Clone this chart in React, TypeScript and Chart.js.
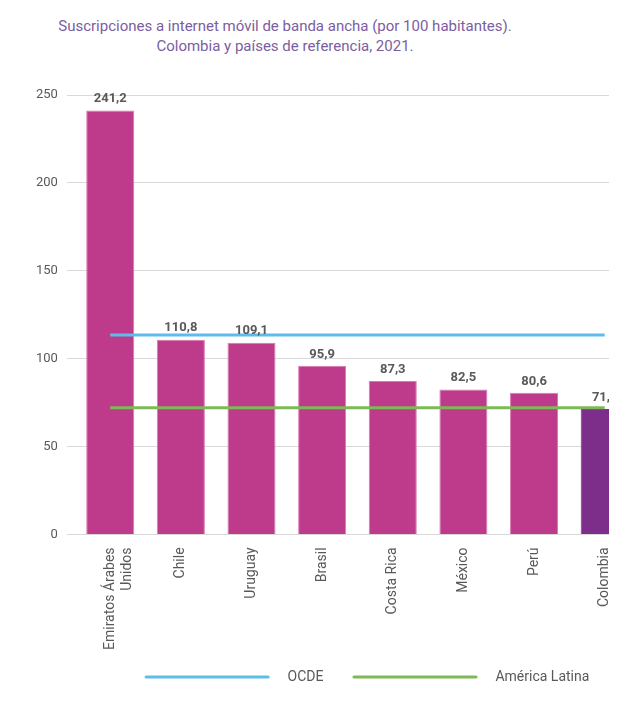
import React, { useEffect, useRef } from "react";
import { Chart, registerables } from "chart.js";

Chart.register(...registerables);

const categories: (string | string[])[] = [
  ["Emiratos Árabes", "Unidos"],
  "Chile",
  "Uruguay",
  "Brasil",
  "Costa Rica",
  "México",
  "Perú",
  "Colombia",
];
const values = [241.2, 110.8, 109.1, 95.9, 87.3, 82.5, 80.6, 71.4];
const ocdeValues = [113.5, 113.5, 113.5, 113.5, 113.5, 113.5, 113.5, 113.5];
const latamValues = [72, 72, 72, 72, 72, 72, 72, 72];
const seriesNames = ["OCDE", "América Latina"];
const yMin = 0;
const yMax = 250;
const yStep = 50;

const MAGENTA = "#be3a8b";
const MAGENTA_EDGE = "#d979b2";
const PURPLE = "#7c2e8a";
const BLUE = "#5cbdea";
const GREEN = "#7cba56";
const TEXT = "#595959";
const FONT = "Roboto";

const fmt = (v: number) => v.toFixed(1).replace(".", ",");

function legendImage(color: string) {
  const c = document.createElement("canvas");
  c.width = 155;
  c.height = 4;
  const ctx = c.getContext("2d")!;
  ctx.strokeStyle = color;
  ctx.lineWidth = 3;
  ctx.lineCap = "round";
  ctx.beginPath();
  ctx.moveTo(20.5, 2);
  ctx.lineTo(142.5, 2);
  ctx.stroke();
  return c;
}

const labelPlugin = {
  id: "valueLabels",
  afterDatasetsDraw(chart: any) {
    const ctx = chart.ctx;
    ctx.save();
    ctx.font = `bold 13px ${FONT}`;
    ctx.fillStyle = TEXT;
    ctx.textAlign = "center";
    ctx.textBaseline = "bottom";
    const meta = chart.getDatasetMeta(0);
    meta.data.forEach((el: any, i: number) => {
      ctx.fillText(fmt(values[i]), el.x, el.y - 5);
    });
    const m1 = chart.getDatasetMeta(1);
    const last = m1.data[m1.data.length - 1];
    ctx.textAlign = "left";
    ctx.textBaseline = "middle";
    ctx.fillText(fmt(ocdeValues[ocdeValues.length - 1]), last.x + 9, last.y + 4);
    ctx.restore();
  },
};

export default function App() {
  const ref = useRef<HTMLCanvasElement>(null);
  useEffect(() => {
    if (!ref.current) return;
    const imgs = [legendImage(BLUE), legendImage(GREEN)];
    const chart = new Chart(ref.current, {
      type: "bar",
      data: {
        labels: categories as any,
        datasets: [
          {
            type: "bar",
            label: "Valor",
            data: values,
            backgroundColor: values.map((_, i) => (i === values.length - 1 ? PURPLE : MAGENTA)),
            borderColor: values.map((_, i) => (i === values.length - 1 ? PURPLE : MAGENTA_EDGE)),
            borderWidth: 1,
            categoryPercentage: 1,
            barPercentage: 0.68,
            order: 1,
          } as any,
          {
            type: "line",
            label: seriesNames[0],
            data: ocdeValues,
            borderColor: BLUE,
            backgroundColor: BLUE,
            borderWidth: 3,
            pointRadius: 0,
            fill: false,
            order: 0,
          },
          {
            type: "line",
            label: seriesNames[1],
            data: latamValues,
            borderColor: GREEN,
            backgroundColor: GREEN,
            borderWidth: 3,
            pointRadius: 0,
            fill: false,
            order: 0,
          },
        ],
      },
      options: {
        responsive: false,
        animation: false,
        layout: { padding: { top: 17, left: 19, right: 38, bottom: 4 } },
        scales: {
          x: {
            grid: { display: false },
            border: { display: false },
            afterFit: (s: any) => {
              s.height = s.height + 5;
            },
            ticks: {
              autoSkip: false,
              minRotation: 90,
              maxRotation: 90,
              padding: 5,
              color: TEXT,
              font: { family: FONT, size: 14 },
            },
          },
          y: {
            min: yMin,
            max: yMax,
            ticks: {
              stepSize: yStep,
              padding: 9,
              color: TEXT,
              font: { family: FONT, size: 13 },
            },
            grid: { color: "#d9d9d9", lineWidth: 1, tickLength: 8 },
            border: { display: false },
          },
        },
        plugins: {
          title: { display: false },
          tooltip: { enabled: false },
          legend: {
            position: "bottom",
            fullSize: false,
            align: "center",
            labels: {
              usePointStyle: true,
              pointStyleWidth: 155,
              padding: 10,
              color: TEXT,
              font: { family: FONT, size: 14 },
              generateLabels: (c: any) =>
                [1, 2].map((i) => ({
                  text: c.data.datasets[i].label,
                  datasetIndex: i,
                  pointStyle: imgs[i - 1],
                  fillStyle: c.data.datasets[i].borderColor,
                  strokeStyle: c.data.datasets[i].borderColor,
                  lineWidth: 0,
                  hidden: false,
                  fontColor: TEXT,
                })),
            },
          },
        },
      },
      plugins: [labelPlugin],
    });
    return () => chart.destroy();
  }, []);

  return (
    <div style={{ width: 609, overflow: "hidden" }}>
      <div
        style={{
          width: 554,
          height: 70,
          boxSizing: "border-box",
          paddingTop: 8,
          textAlign: "center",
          fontFamily: FONT,
          fontSize: 15,
          lineHeight: "20px",
          color: "#7b5e9f",
        }}
      >
        Suscripciones a internet móvil de banda ancha (por 100 habitantes).
        <br />
        Colombia y países de referencia, 2021.
      </div>
      <canvas ref={ref} width={670} height={620} style={{ display: "block" }} />
    </div>
  );
}
